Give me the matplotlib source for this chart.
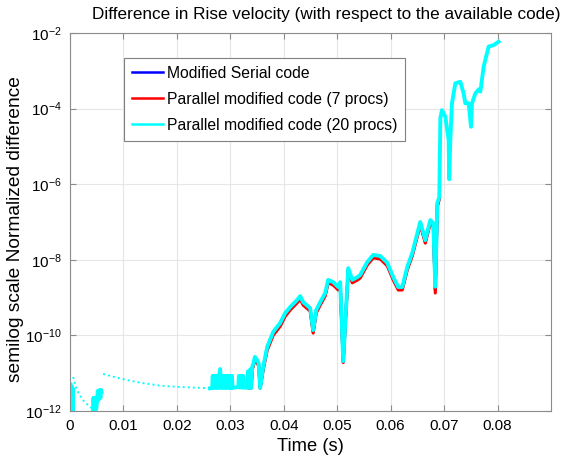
import numpy as np
import matplotlib
matplotlib.use('Agg')
import matplotlib.pyplot as plt
from matplotlib.ticker import NullLocator

plt.rcParams['font.family'] = ['Liberation Sans', 'DejaVu Sans']
plt.rcParams['mathtext.fontset'] = 'custom'
plt.rcParams['mathtext.rm'] = 'Liberation Sans'
plt.rcParams['mathtext.default'] = 'regular'

# time (s) and log10 of the normalised rise velocity difference
t_main = [0.0331, 0.0333, 0.0335, 0.0337, 0.0339, 0.0341, 0.0343, 0.0346, 0.0350, 0.0353,
          0.03558, 0.03614, 0.03689, 0.03801, 0.03933, 0.04026, 0.0412, 0.04251, 0.04307, 0.04363,
          0.04494, 0.0455, 0.04607, 0.04682, 0.04775, 0.04831, 0.04925, 0.05019, 0.05056, 0.05112,
          0.05206, 0.05281, 0.05375, 0.05431, 0.05562, 0.05674, 0.05805, 0.05936, 0.06049, 0.06142,
          0.06217, 0.06311, 0.06404, 0.06554, 0.06648, 0.06742, 0.06798, 0.06835, 0.06873, 0.0691]

serial_main = [-11.38, -10.97, -11.39, -10.92, -11.39, -10.86, -10.78, -10.60, -10.68, -10.77,
               -11.39, -10.88, -10.35, -9.95, -9.71, -9.45, -9.29, -9.10, -9.00, -9.16,
               -9.32, -9.90, -9.37, -9.16, -8.92, -8.57, -8.63, -8.76, -8.63, -10.70,
               -8.26, -8.57, -8.50, -8.44, -8.10, -7.91, -7.94, -8.12, -8.50, -8.76,
               -8.76, -8.23, -7.86, -7.04, -7.52, -6.99, -7.07, -8.80, -6.55, -6.37]

par7_main = [-11.38, -11.00, -11.39, -10.95, -11.39, -10.90, -10.82, -10.64, -10.72, -10.81,
             -11.39, -10.92, -10.40, -10.00, -9.76, -9.50, -9.33, -9.14, -9.04, -9.20,
             -9.36, -9.94, -9.41, -9.20, -8.96, -8.61, -8.67, -8.80, -8.67, -10.72,
             -8.30, -8.61, -8.54, -8.48, -8.14, -7.95, -7.98, -8.16, -8.54, -8.80,
             -8.80, -8.27, -7.90, -7.08, -7.56, -7.03, -7.11, -8.88, -6.60, -6.40]

par20_main = [-11.38, -10.95, -11.39, -10.90, -11.39, -10.83, -10.75, -10.57, -10.65, -10.74,
              -11.39, -10.84, -10.31, -9.91, -9.67, -9.41, -9.25, -9.06, -8.96, -9.12,
              -9.28, -9.86, -9.33, -9.12, -8.88, -8.53, -8.59, -8.72, -8.59, -10.68,
              -8.22, -8.53, -8.46, -8.40, -8.06, -7.87, -7.90, -8.08, -8.46, -8.72,
              -8.72, -8.19, -7.82, -7.00, -7.48, -6.95, -7.03, -8.71, -6.50, -6.34]

# 20 procs run: noisy blocks ahead of the main rise (nan = no positive sample)
t_par20_early = [0.0001, 0.0002, 0.0003, 0.0004, 0.0005, 0.0006, np.nan,
                 0.0043, 0.0044, 0.0045, 0.0046, 0.0047, 0.0048, 0.0049, 0.0051,
                 0.0052, 0.0054, 0.0055, 0.0057, 0.0058, 0.0059, np.nan,
                 0.0262, 0.0266, 0.0267, 0.0269, 0.0271, 0.0273, 0.0275, 0.0277,
                 0.0279, 0.0281, 0.0282, 0.0284, 0.0286, 0.0288, 0.0290, 0.0292,
                 0.0294, 0.0296, 0.0298, 0.0300, 0.0302, 0.0303, 0.0304, 0.0315,
                 0.0316, 0.0318, 0.0320, 0.0322, 0.0324, 0.0325, 0.0329]
par20_early = [-11.30, -12.40, -11.35, -12.40, -11.40, -12.40, np.nan,
               -11.95, -11.65, -11.95, -11.65, -11.95, -11.65, -11.95, -11.70,
               -11.47, -11.70, -11.45, -11.65, -11.44, -11.50, np.nan,
               -11.40, -11.39, -11.07, -11.39, -11.07, -11.39, -11.07, -11.39,
               -11.07, -10.89, -11.39, -11.07, -11.39, -11.07, -11.39, -11.07,
               -11.39, -11.07, -11.39, -11.07, -11.39, -11.07, -11.38, -11.37,
               -11.07, -11.38, -11.07, -11.38, -11.07, -11.38, -11.38]

# sparse samples, only every few steps are positive
t_par20_sparse = [0.0006, 0.00125, 0.0024, 0.0037, 0.0043, np.nan,
                  0.0062, 0.0080, 0.0106, 0.0135, 0.0169, 0.0200, 0.0231, 0.0262]
par20_sparse = [-11.10, -11.44, -11.71, -11.89, -11.95, np.nan,
                -11.02, -11.09, -11.18, -11.26, -11.33, -11.36, -11.38, -11.40]

# 20 procs run goes on after the other two stop
t_par20_tail = [0.0693, 0.0696, 0.07022, 0.07085, 0.07095, 0.07116, 0.07147, 0.0721, 0.07303,
                0.07366, 0.07397, 0.07459, 0.07503, 0.07522, 0.07584, 0.07647, 0.07678,
                0.0774, 0.07833, 0.07927, 0.0802]
par20_tail = [-4.25, -4.04, -4.21, -4.83, -5.87, -4.83, -3.86, -3.33, -3.29,
              -3.60, -3.86, -3.86, -4.48, -3.86, -3.60, -3.49, -3.55,
              -2.89, -2.36, -2.32, -2.23]

xticks = [0, 0.01, 0.02, 0.03, 0.04, 0.05, 0.06, 0.07, 0.08]
yticks = [1e-12, 1e-10, 1e-8, 1e-6, 1e-4, 1e-2]

fig = plt.figure(figsize=(5.62, 4.61), dpi=100)
ax = fig.add_axes([70 / 562, 1 - 411 / 461, 481 / 562, 378 / 461])

t20 = np.concatenate([t_par20_early, t_main, t_par20_tail])
y20 = np.concatenate([par20_early, par20_main, par20_tail])

ax.plot(t_main, 10.0 ** np.array(serial_main), color='#0000ff', lw=2.2,
        label='Modified Serial code')
ax.plot(t_main, 10.0 ** np.array(par7_main), color='#ff0000', lw=2.2,
        label='Parallel modified code (7 procs)')
ax.plot(t20, 10.0 ** y20, color='#00ffff', lw=2.8,
        label='Parallel modified code (20 procs)')
ax.plot(t_par20_sparse, 10.0 ** np.array(par20_sparse), color='#00ffff', lw=1.4,
        ls=(0, (1, 1.6)))

ax.set_yscale('log')
ax.set_xlim(0, 0.09)
ax.set_ylim(1e-12, 1e-2)
ax.set_xticks(xticks)
ax.set_xticklabels(['0'] + ['%.2f' % v for v in xticks[1:]])
ax.set_yticks(yticks)
ax.yaxis.set_minor_locator(NullLocator())
ax.grid(True, color='#e6e6e6', lw=0.8)
ax.set_axisbelow(True)
for s in ax.spines.values():
    s.set_color('#8c8c8c')
    s.set_linewidth(0.8)
ax.tick_params(direction='in', top=True, right=True, length=4, color='#8c8c8c',
               labelsize=11, pad=6)

ax.set_xlabel('Time (s)', fontsize=13.2, labelpad=3)
ax.set_ylabel('semilog scale Normalized difference', fontsize=13.8)
ax.yaxis.set_label_coords(-0.095, 0.48)
fig.text(326 / 562, 1 - 14 / 461, 'Difference in Rise velocity (with respect to the available code)',
         ha='center', va='center', fontsize=12.3)

leg = ax.legend(loc='upper left', bbox_to_anchor=(124 / 562, 1 - 58 / 461),
                bbox_transform=fig.transFigure, borderaxespad=0, fontsize=11.3,
                fancybox=False, framealpha=1, edgecolor='#808080',
                handlelength=2.0, handletextpad=0.25, labelspacing=0.7, borderpad=0.5)
leg.get_frame().set_linewidth(0.8)
for ln in leg.get_lines():
    ln.set_linewidth(1.8)

fig.savefig('out.png', dpi=100)
